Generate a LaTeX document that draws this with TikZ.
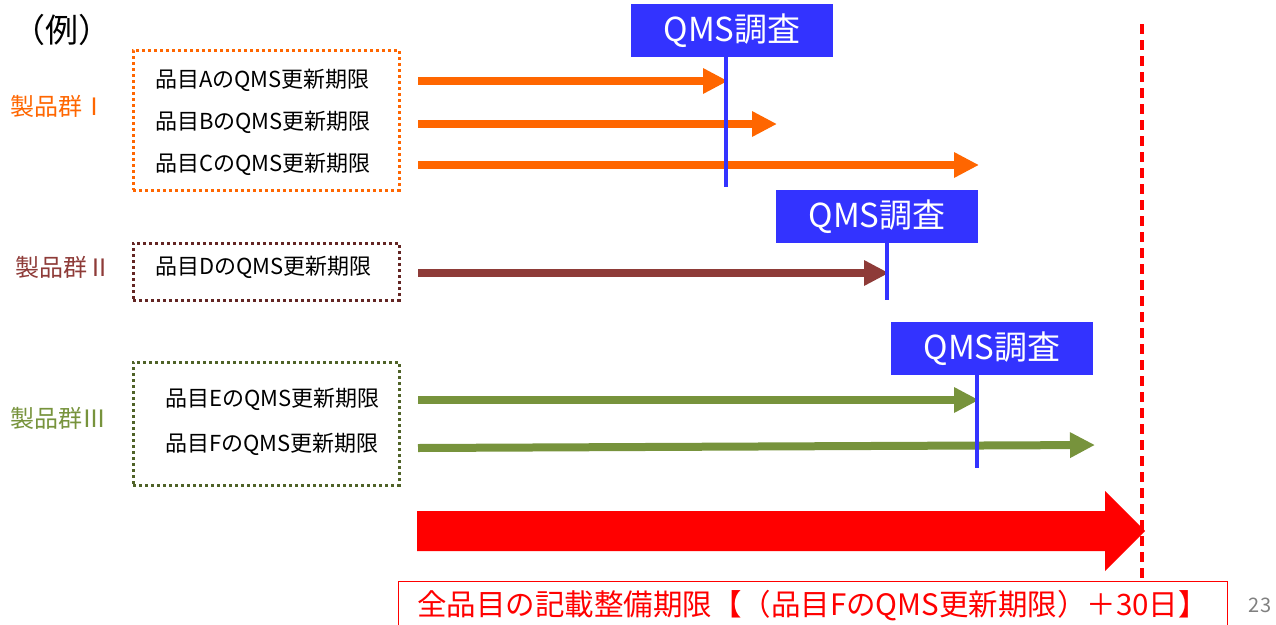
\documentclass[tikz,border=0pt]{standalone}
\usepackage{fontspec}
\setmainfont{Noto Sans CJK JP}
\usetikzlibrary{arrows.meta}
\definecolor{orng}{HTML}{FF6600}
\definecolor{qblue}{HTML}{3333FF}
\definecolor{brwn}{HTML}{8E3B38}
\definecolor{grn}{HTML}{77933C}
\definecolor{dgrn}{HTML}{4F6228}
\definecolor{dbrwn}{HTML}{632523}
\definecolor{rd}{HTML}{FF0000}
\tikzset{
  grpbox/.style={draw, line width=3pt, dash pattern=on 3pt off 3pt, minimum width=266pt, inner sep=0pt},
  item/.style={font=\fontsize{22}{26}\selectfont, inner sep=0pt, anchor=west},
  grplabel/.style={font=\fontsize{24}{28}\selectfont, inner sep=0pt, anchor=west},
  bar/.style={line width=8pt, -{Triangle[length=25pt,width=24pt]}},
  qms/.style={fill=qblue, text=white, minimum width=202pt, minimum height=53pt, inner sep=0pt, font=\fontsize{33}{36}\selectfont},
  qline/.style={draw=qblue, line width=4pt},
}
\begin{document}
\begin{tikzpicture}[x=1pt,y=-1pt]
\useasboundingbox (0,0) rectangle (1276,624);
% title
\node[font=\fontsize{33}{36}\selectfont, inner sep=0pt, anchor=west] (rei) at (12,30) {（例）};
% group I
\node[grplabel, text=orng] (g1) at (10,106) {製品群Ⅰ};
\node[grpbox, draw=orng, minimum height=140pt] (b1) at (266,120) {};
\node[item] (tA) at (155,80) {品目AのQMS更新期限};
\node[item] (tB) at (155,122) {品目BのQMS更新期限};
\node[item] (tC) at (155,164) {品目CのQMS更新期限};
% group II
\node[grplabel, text=brwn] (g2) at (15,267) {製品群Ⅱ};
\node[grpbox, draw=dbrwn, minimum height=57pt] (b2) at (266,271.5) {};
\node[item] (tD) at (155,267) {品目DのQMS更新期限};
% group III
\node[grplabel, text=grn] (g3) at (10,418) {製品群Ⅲ};
\node[grpbox, draw=dgrn, minimum height=123pt] (b3) at (266,423.5) {};
\node[item] (tE) at (165,399) {品目EのQMS更新期限};
\node[item] (tF) at (165,444) {品目FのQMS更新期限};
% arrow coordinates
\coordinate (sA) at (418,81);  \coordinate (eA) at (728,81);
\coordinate (sB) at (418,124); \coordinate (eB) at (777,124);
\coordinate (sC) at (418,165); \coordinate (eC) at (979,165);
\coordinate (sD) at (418,273); \coordinate (eD) at (889,273);
\coordinate (sE) at (418,400); \coordinate (eE) at (979,400);
\coordinate (sF) at (418,448); \coordinate (eF) at (1095,445);
\draw[bar, orng] (sA) -- (eA);
\draw[bar, orng] (sB) -- (eB);
\draw[bar, orng] (sC) -- (eC);
\draw[bar, brwn] (sD) -- (eD);
\draw[bar, grn] (sE) -- (eE);
\draw[bar, grn] (sF) -- (eF);
% QMS boxes
\node[qms] (q1) at (732,30.5) {QMS調査};
\node[qms] (q2) at (877,216.5) {QMS調査};
\node[qms] (q3) at (992,348.5) {QMS調査};
\coordinate (l1) at (726,187);
\coordinate (l2) at (887,300);
\coordinate (l3) at (977,468);
\draw[qline] (q1.south -| l1) -- (l1);
\draw[qline] (q2.south -| l2) -- (l2);
\draw[qline] (q3.south -| l3) -- (l3);
% red dashed deadline
\coordinate (dtop) at (1142,24);
\coordinate (dbot) at (1142,582);
\draw[rd, line width=3.5pt, dash pattern=on 10pt off 6pt] (dtop) -- (dbot);
% big red arrow
\coordinate (bs) at (417,531);
\coordinate (bt) at (1145,531);
\fill[rd] (bs) ++(0,-20) -- ++(688,0) -- ++(0,-20) -- (bt) -- (1105,571) -- (1105,551) -- (417,551) -- cycle;
% deadline label
\node[draw=rd, line width=1pt, minimum width=829pt, minimum height=50pt, inner sep=0pt, text=rd, font=\fontsize{29.5}{32}\selectfont] (dl) at (812.5,606) {全品目の記載整備期限【（品目FのQMS更新期限）＋30日】};
% page number
\node[font=\fontsize{20}{22}\selectfont, text=gray, inner sep=0pt] (pg) at (1260,605) {23};
\end{tikzpicture}
\end{document}
